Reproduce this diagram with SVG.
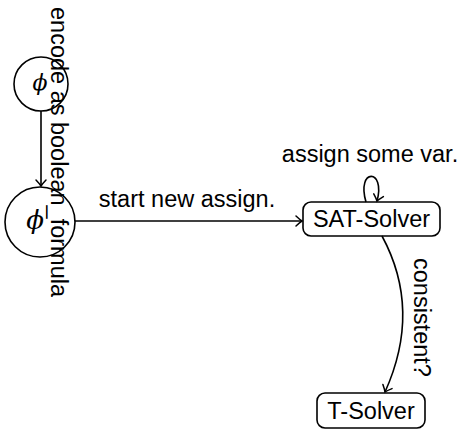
<svg xmlns="http://www.w3.org/2000/svg" width="462" height="430" viewBox="0 0 462 430">
  <style>
    .node { fill: none; stroke: #000; stroke-width: 1.6; }
    .edge { fill: none; stroke: #000; stroke-width: 1.6; }
    .lbl { font-family: "Liberation Sans", Arial, Helvetica, sans-serif; font-size: 23.5px; fill: #000; }
    .phi { font-family: "DejaVu Serif", "Liberation Serif", serif; font-style: italic; fill: #000; text-anchor: middle; }
  </style>
  <defs>
    <marker id="arrow" markerUnits="userSpaceOnUse" markerWidth="14" markerHeight="14" viewBox="-8 -7 10 14" refX="0" refY="0" orient="auto" overflow="visible">
      <path d="M -6 -5 Q -2 -1.2 0 0 Q -2 1.2 -6 5" fill="none" stroke="#000" stroke-width="1.5" stroke-linecap="round"/>
    </marker>
  </defs>
  <rect width="462" height="430" fill="#fff"/>

  <g id="phi">
    <circle class="node" cx="41" cy="84" r="27"/>
    <text class="phi" x="40" y="90" font-size="22">ϕ</text>
  </g>

  <g id="phi-encoded">
    <circle class="node" cx="40" cy="222" r="35"/>
    <text class="phi" x="35" y="229" font-size="26">ϕ</text>
  </g>

  <g id="sat-solver">
    <rect class="node" x="303" y="202" width="137" height="34" rx="8"/>
    <text class="lbl" x="371.5" y="227" text-anchor="middle">SAT-Solver</text>
  </g>

  <g id="t-solver">
    <rect class="node" x="317" y="393" width="108" height="35" rx="8"/>
    <text class="lbl" x="371" y="419" text-anchor="middle">T-Solver</text>
  </g>

  <g id="connectors">
    <!-- formula to boolean encoding -->
    <line class="edge" x1="41" y1="111" x2="41" y2="186" marker-end="url(#arrow)"/>
    <!-- encoded formula into the SAT solver -->
    <line class="edge" x1="75" y1="221" x2="302" y2="221" marker-end="url(#arrow)"/>
    <!-- self loop on the SAT solver -->
    <path class="edge" d="M 366 202 C 356 168, 386 168, 377 201" marker-end="url(#arrow)"/>
    <!-- SAT solver to theory solver -->
    <path class="edge" d="M 382 236 Q 422 310 385 392" marker-end="url(#arrow)"/>

    <text class="lbl" transform="translate(51,7) rotate(90)">encode as boolean_formula</text>
    <text class="lbl" x="187" y="207" text-anchor="middle">start new assign.</text>
    <text class="lbl" x="370" y="162" text-anchor="middle">assign some var.</text>
    <text class="lbl" transform="translate(414,258) rotate(90)">consistent?</text>
  </g>
</svg>
